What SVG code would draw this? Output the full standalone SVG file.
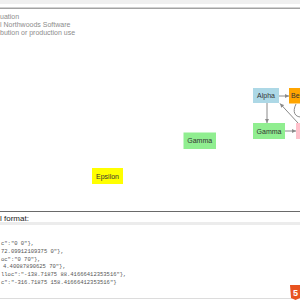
<svg xmlns="http://www.w3.org/2000/svg" width="300" height="300" viewBox="0 0 300 300">
<style>
.node text{font-family:"Liberation Sans","DejaVu Sans",sans-serif;font-size:7px;fill:#333;text-anchor:middle;dominant-baseline:central}
.wm{font-family:"Liberation Sans","DejaVu Sans",sans-serif;font-size:7px;fill:#8c8c8c}
.code{font-family:"Liberation Mono","DejaVu Sans Mono",monospace;font-size:5.5px;fill:#555}
.link{fill:none;stroke:#8a8a8a;stroke-width:1}
</style>
<defs>
<marker id="arr" viewBox="0 0 8 8" refX="8" refY="4" markerWidth="4" markerHeight="4" orient="auto" markerUnits="userSpaceOnUse">
<path d="M0,0 L8,4 L0,8 z" fill="#8a8a8a"/>
</marker>
</defs>
<rect x="0" y="0" width="300" height="300" fill="#fff"/>
<rect x="0" y="0" width="300" height="4" fill="#f0f0f0"/>
<line x1="0" y1="8.2" x2="300" y2="8.2" stroke="#a3a3a3" stroke-width="1.5"/>
<text class="wm" x="0" y="18.5">uation</text>
<text class="wm" x="0" y="26.5">l Northwoods Software</text>
<text class="wm" x="0" y="34.5">bution or production use</text>

<g id="connectors">
<line class="link" x1="279" y1="96" x2="289" y2="96" marker-end="url(#arr)"/>
<line class="link" x1="267" y1="103" x2="267" y2="123" marker-end="url(#arr)"/>
<line class="link" x1="285" y1="131" x2="296" y2="131" marker-end="url(#arr)"/>
<line class="link" x1="298" y1="123" x2="280" y2="103.5" marker-end="url(#arr)"/>
<path class="link" d="M301,117 C295,117 292,112 296,104"/>
</g>

<g id="alpha" class="node"><rect x="253" y="88" width="26" height="15" fill="#add8e6"/><text x="266" y="95.5">Alpha</text></g>
<g id="beta" class="node"><rect x="289" y="88" width="26" height="15.5" fill="#ffa500"/><text x="291" y="95.5" style="text-anchor:start">Be</text></g>
<g id="delta" class="node"><rect x="296" y="123" width="28" height="16" fill="#ffc0cb"/></g>
<g id="gamma" class="node"><rect x="253" y="123" width="32" height="16" fill="#90ee90"/><text x="269" y="131">Gamma</text></g>
<g id="gamma2" class="node"><rect x="183.5" y="132.5" width="32.5" height="16.5" fill="#90ee90"/><text x="199.7" y="140.7">Gamma</text></g>
<g id="epsilon" class="node"><rect x="92" y="168" width="31" height="16" fill="#ffff00"/><text x="107.5" y="176">Epsilon</text></g>

<line x1="0" y1="211.5" x2="300" y2="211.5" stroke="#6a6a6a" stroke-width="1"/>
<text x="0" y="220.5" font-family="Liberation Sans,DejaVu Sans,sans-serif" font-size="8" fill="#222">l format:</text>
<rect x="0" y="222" width="300" height="3" fill="#ececec"/>
<text class="code" x="1" y="245">c":"0 0"},</text>
<text class="code" x="1" y="253">72.09912109375 0"},</text>
<text class="code" x="1" y="260.5">oc":"0 70"},</text>
<text class="code" x="3" y="268">4.40087890625 70"},</text>
<text class="code" x="1" y="276">lloc":"-138.71875 88.41666412353516"},</text>
<text class="code" x="1" y="283.7">c":"-316.71875 158.41666412353516"}</text>
<line x1="0" y1="298.5" x2="300" y2="298.5" stroke="#dcdcdc" stroke-width="1"/>
<path d="M290,285 L301,285 L300,298 L295.5,300 L291,298 z" fill="#e8531f"/>
<text x="295.5" y="296" font-family="Liberation Sans,DejaVu Sans,sans-serif" font-size="9" font-weight="bold" fill="#fff" text-anchor="middle">5</text>
</svg>
